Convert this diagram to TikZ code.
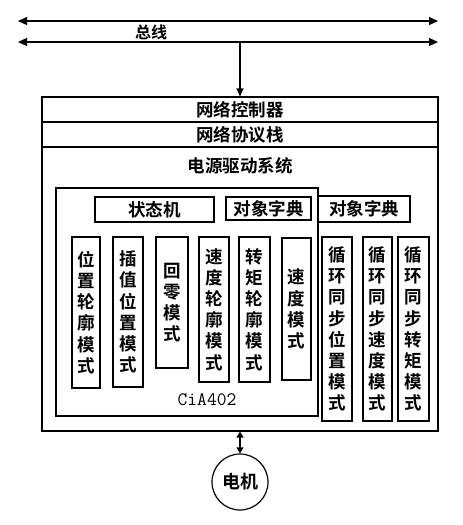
\documentclass[tikz,border=0pt]{standalone}
\usepackage{fontspec}
\usepackage{tikz}
\usetikzlibrary{arrows.meta}
\newfontfamily\cjk{Noto Sans CJK SC}[BoldFont=Noto Sans CJK SC Bold]

\tikzset{
  layer/.style={draw,line width=1.1pt,rectangle,minimum width=396pt,inner sep=0pt,font=\cjk\bfseries\fontsize{17.5}{19}\selectfont},
  tabbox/.style={draw,line width=1.5pt,rectangle,inner sep=0pt,font=\cjk\bfseries\fontsize{17.5}{19}\selectfont},
  modebox/.style={draw,line width=1.6pt,rectangle,inner sep=0pt,align=center,font=\cjk\bfseries\fontsize{17.5}{21.2}\selectfont},
  busarrow/.style={line width=1.2pt,{Triangle[length=9pt,width=8pt]}-{Triangle[length=9pt,width=8pt]}}
}

\begin{document}
\begin{tikzpicture}[x=1pt,y=-1pt]
  \useasboundingbox (0,0) rectangle (463,525);
  % bus
  \coordinate (bus1l) at (18,21);  \coordinate (bus1r) at (438,21);
  \coordinate (bus2l) at (18,42);  \coordinate (bus2r) at (438,42);
  \coordinate (tap) at (240,42);
  \draw[busarrow] (bus1l)--(bus1r);
  \draw[busarrow] (bus2l)--(bus2r);
  \node[font=\cjk\bfseries\fontsize{16}{17}\selectfont] (buslabel) at (151,32) {总线};

  % layers
  \node[layer,minimum height=25pt] (ctrl) at (240,109.5) {网络控制器};
  \node[layer,minimum height=25pt] (stack) at (240,134.5) {网络协议栈};
  \node[layer,minimum height=284pt] (sys) at (240,289) {};
  \node[font=\cjk\bfseries\fontsize{17.5}{19}\selectfont] (systitle) at (240,166) {电源驱动系统};
  \draw[line width=1.2pt,-{Triangle[length=8pt,width=7pt]}] (tap)--(ctrl.north);

  % CiA402
  \node[draw,line width=1.2pt,minimum width=262pt,minimum height=228pt,inner sep=0pt] (cia) at (187,302) {};
  \node[font=\ttfamily\fontsize{19}{20}\selectfont] (cialabel) at (207,400) {CiA402};
  \node[tabbox,minimum width=119pt,minimum height=25pt] (fsm) at (154.5,209.5) {状态机};
  \node[tabbox,minimum width=85pt,minimum height=23pt] (dict1) at (268.5,208.5) {对象字典};
  \node[tabbox,minimum width=92pt,minimum height=26pt] (dict2) at (364,209) {对象字典};

  \node[modebox,minimum width=28pt,minimum height=151pt] (pp) at (86,312.5) {位\\置\\轮\\廓\\模\\式};
  \node[modebox,minimum width=30pt,minimum height=150pt] (ip) at (128,312) {插\\值\\位\\置\\模\\式};
  \node[modebox,minimum width=32pt,minimum height=131pt] (hm) at (172,302.5) {回\\零\\模\\式};
  \node[modebox,minimum width=30pt,minimum height=145pt] (pv) at (214,309.5) {速\\度\\轮\\廓\\模\\式};
  \node[modebox,minimum width=31pt,minimum height=145pt] (pt) at (254.5,309.5) {转\\矩\\轮\\廓\\模\\式};
  \node[modebox,minimum width=29pt,minimum height=142pt] (vm) at (296.5,309) {速\\度\\模\\式};

  \node[modebox,minimum width=30pt,minimum height=184pt] (csp) at (337,329) {循\\环\\同\\步\\位\\置\\模\\式};
  \node[modebox,minimum width=29pt,minimum height=184pt] (csv) at (377.5,329) {循\\环\\同\\步\\速\\度\\模\\式};
  \node[modebox,minimum width=31pt,minimum height=184pt] (cst) at (413.5,329) {循\\环\\同\\步\\转\\矩\\模\\式};

  % motor
  \node[draw,circle,line width=1.2pt,minimum size=56pt,inner sep=0pt,font=\cjk\bfseries\fontsize{18}{19}\selectfont] (motor) at (240,482) {电机};
  \draw[line width=1.2pt,{Triangle[length=6pt,width=7pt]}-{Triangle[length=6pt,width=7pt]}] (sys.south)--(motor.north);
\end{tikzpicture}
\end{document}
